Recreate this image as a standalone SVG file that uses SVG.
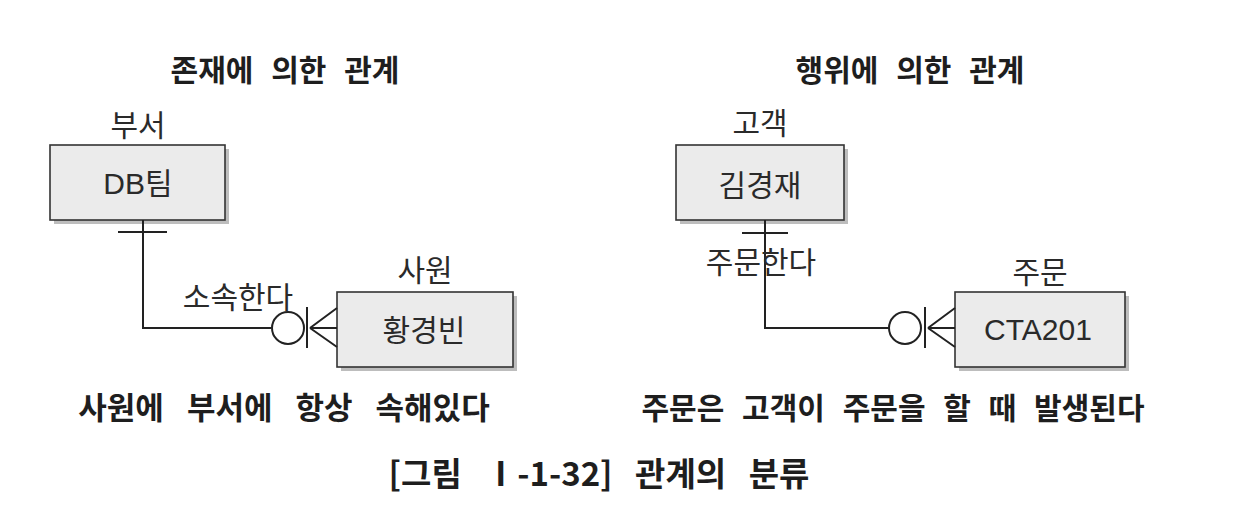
<svg xmlns="http://www.w3.org/2000/svg" width="1238" height="522" viewBox="0 0 1238 522">
<style>
.bg{fill:#ffffff}
.box{fill:#ebebeb;stroke:#333;stroke-width:1.6}
.shadow{fill:#bdbdbd}
.ln{fill:none;stroke:#222;stroke-width:2}
.lbl{font-family:"Liberation Sans","Noto Sans CJK KR",sans-serif;font-size:30px;fill:#2a2a2a;text-anchor:middle}
.ttl{font-family:"Noto Sans CJK KR",sans-serif;font-size:30px;font-weight:bold;fill:#1e1e1e;text-anchor:middle;word-spacing:11px}
</style>
<rect class="bg" width="1238" height="522"/>
<text class="ttl" x="285" y="81">존재에 의한 관계</text>
<text class="ttl" x="910" y="81">행위에 의한 관계</text>

<g id="dept">
<text class="lbl" x="138" y="136">부서</text>
<rect class="shadow" x="54" y="149" width="175" height="75"/>
<rect class="box" x="50" y="145" width="175" height="75"/>
<text class="lbl" x="138" y="194">DB팀</text>
</g>
<g id="emp">
<text class="lbl" x="425" y="281">사원</text>
<rect class="shadow" x="341" y="296" width="176" height="75"/>
<rect class="box" x="337" y="292" width="176" height="75"/>
<text class="lbl" x="424" y="341">황경빈</text>
</g>
<g id="cust">
<text class="lbl" x="760" y="134">고객</text>
<rect class="shadow" x="680" y="149" width="168" height="75"/>
<rect class="box" x="676" y="145" width="168" height="75"/>
<text class="lbl" x="760" y="196">김경재</text>
</g>
<g id="order">
<text class="lbl" x="1040" y="283">주문</text>
<rect class="shadow" x="959" y="296" width="170" height="75"/>
<rect class="box" x="955" y="292" width="170" height="75"/>
<text class="lbl" x="1038" y="340">CTA201</text>
</g>

<g id="connectors">
<path class="ln" d="M143,220 V328 H271"/>
<path class="ln" d="M118,232 H167"/>
<circle class="ln" cx="288" cy="328" r="16"/>
<path class="ln" d="M307,307 V348"/>
<path class="ln" d="M310,328 L337,308 M310,328 H337 M310,328 L337,347"/>
<text class="lbl" x="238" y="308">소속한다</text>

<path class="ln" d="M765,220 V328 H889"/>
<path class="ln" d="M742,233 H788"/>
<circle class="ln" cx="905" cy="328" r="16"/>
<path class="ln" d="M925,307 V348"/>
<path class="ln" d="M928,328 L955,308 M928,328 H955 M928,328 L955,347"/>
<text class="lbl" x="761" y="273">주문한다</text>
</g>

<text class="ttl" x="284" y="419" style="font-size:31px;word-spacing:16px">사원에 부서에 항상 속해있다</text>
<text class="ttl" x="893" y="419">주문은 고객이 주문을 할 때 발생된다</text>
<text class="ttl" x="599" y="486" style="font-size:33px;word-spacing:15px">[그림 Ⅰ-1-32] 관계의 분류</text>
</svg>
